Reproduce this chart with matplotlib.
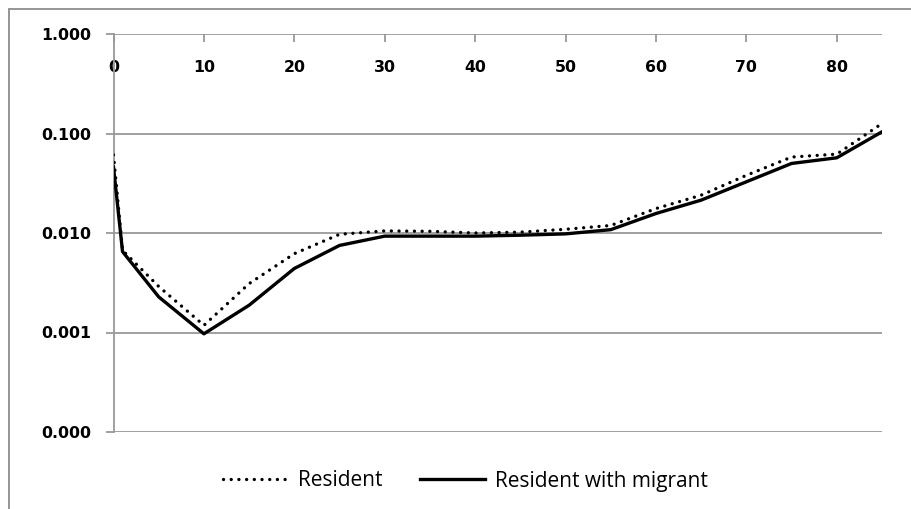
import matplotlib
matplotlib.use("Agg")
import matplotlib.pyplot as plt
from matplotlib.patches import Rectangle
from matplotlib.ticker import FixedLocator, FixedFormatter, NullLocator

# Age groups and mortality rates
ages = [0, 1, 5, 10, 15, 20, 25, 30, 35, 40, 45, 50, 55, 60, 65, 70, 75, 80, 85]
resident = [0.061, 0.0067, 0.0029, 0.00118, 0.0031, 0.0062, 0.0097, 0.0105, 0.0104,
            0.0100, 0.0102, 0.0109, 0.0119, 0.0176, 0.024, 0.038, 0.058, 0.062, 0.126]
resident_migrant = [0.046, 0.0065, 0.00228, 0.00097, 0.00188, 0.0044, 0.0075, 0.0093, 0.0093,
                    0.0093, 0.0095, 0.0098, 0.0108, 0.0157, 0.0214, 0.0327, 0.050, 0.057, 0.104]

y_ticks = [0.0001, 0.001, 0.01, 0.1, 1.0]
y_labels = ["0.000", "0.001", "0.010", "0.100", "1.000"]
x_ticks = [0, 10, 20, 30, 40, 50, 60, 70, 80]
x_labels = ["0", "10", "20", "30", "40", "50", "60", "70", "80"]

W, H = 911, 509
fig = plt.figure(figsize=(W / 100, H / 100), dpi=100)

# outer chart frame
fig.patches.append(Rectangle((9 / W, -0.1), 1.2, 1 - 9 / H + 0.1,
                             transform=fig.transFigure, fill=False,
                             edgecolor="#8c8c8c", linewidth=1.3))

ax = fig.add_axes([113.5 / W, 1 - 432 / H, (882 - 113.5) / W, (432 - 34) / H])
ax.set_yscale("log")
ax.set_xlim(0, 85)
ax.set_ylim(1e-4, 1.0)

grid_c = "#999999"
ax.yaxis.set_major_locator(FixedLocator(y_ticks))
ax.yaxis.set_major_formatter(FixedFormatter(y_labels))
ax.yaxis.set_minor_locator(NullLocator())
for y in y_ticks:
    ax.axhline(y, color=grid_c, linewidth=1.3, zorder=1)

ax.xaxis.set_major_locator(FixedLocator(x_ticks))
ax.xaxis.set_major_formatter(FixedFormatter(x_labels))
ax.xaxis.tick_top()
ax.tick_params(axis="x", direction="in", length=6, width=1.3, color=grid_c,
               pad=-19, labelsize=11.3)
for lab in ax.get_xticklabels():
    lab.set_verticalalignment("top")
    lab.set_fontweight("bold")
ax.tick_params(axis="y", direction="out", length=6, width=1.3, color=grid_c,
               pad=10, labelsize=11.3)
for lab in ax.get_yticklabels():
    lab.set_fontweight("bold")

for side in ["right", "bottom", "top"]:
    ax.spines[side].set_visible(False)
ax.spines["left"].set_color(grid_c)
ax.spines["left"].set_linewidth(1.3)

ax.plot(ages, resident, color="black", linewidth=2.4,
        linestyle=(0, (0.01, 2.3)), dash_capstyle="round", label="Resident", zorder=3)
ax.plot(ages, resident_migrant, color="black", linewidth=2.4,
        label="Resident with migrant", zorder=3)

fig.legend(loc="center", bbox_to_anchor=(465.5 / W, 1 - 481 / H), ncol=2,
           frameon=False, handlelength=3.1, columnspacing=1.8, handletextpad=0.5,
           prop={"family": "Open Sans", "size": 15})

fig.savefig("out.png", dpi=100)
